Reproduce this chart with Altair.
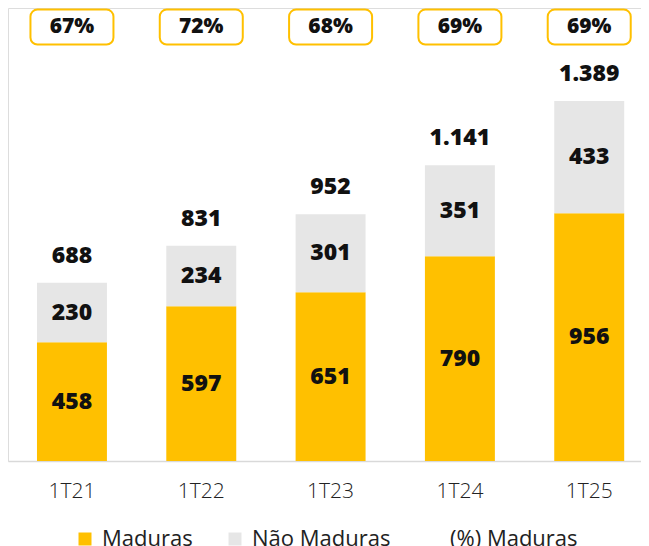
import altair as alt
import pandas as pd

categories = ["1T21", "1T22", "1T23", "1T24", "1T25"]
maduras = [458, 597, 651, 790, 956]
nao_maduras = [230, 234, 301, 351, 433]
totals = [688, 831, 952, 1141, 1389]
total_labels = ["688", "831", "952", "1.141", "1.389"]
pct_maduras = ["67%", "72%", "68%", "69%", "69%"]

series_names = ["Maduras", "Não Maduras", "(%) Maduras"]
series_colors = ["#FFC000", "#E6E6E6", "#FFFFFF"]

YELLOW = "#FFC000"
FONT = "Open Sans"

rows = []
for c, m, n in zip(categories, maduras, nao_maduras):
    rows.append({"cat": c, "serie": "Maduras", "y0": 0, "y1": m, "mid": m / 2, "label": str(m)})
    rows.append({"cat": c, "serie": "Não Maduras", "y0": m, "y1": m + n, "mid": m + n / 2, "label": str(n)})
seg = pd.DataFrame(rows)

tot = pd.DataFrame({"cat": categories, "total": totals, "label": total_labels})
pct = pd.DataFrame({"cat": categories, "pct": pct_maduras, "top": [1742] * 5, "bottom": [1607] * 5, "mid": [1674] * 5})

x = alt.X("cat:N", sort=categories,
          scale=alt.Scale(paddingInner=0.459, paddingOuter=0.177, align=0.633),
          axis=alt.Axis(title=None, labelAngle=0, ticks=False, labelFont=FONT, labelFontSize=21,
                        labelColor="#222222", labelPadding=19, domainColor="#D9D9D9", domainWidth=1.5,
                        labelFontWeight=300))
yscale = alt.Scale(domain=[0, 1748], nice=False)

bars = alt.Chart(seg).mark_bar().encode(
    x=x,
    y=alt.Y("y0:Q", scale=yscale, axis=None),
    y2="y1:Q",
    color=alt.Color("serie:N", scale=alt.Scale(domain=series_names, range=series_colors),
                    legend=alt.Legend(title=None, orient="none", direction="horizontal",
                                      legendX=66, legendY=520, symbolType="square", symbolSize=169,
                                      symbolStrokeWidth=0, labelFont=FONT, labelFontSize=22,
                                      labelColor="#222222", columnPadding=31, symbolOffset=0,
                                      labelOffset=6)),
)

seg_text = alt.Chart(seg).mark_text(font=FONT, fontSize=23, fontWeight=800, color="#111111").encode(
    x=alt.X("cat:N", sort=categories),
    y=alt.Y("mid:Q", scale=yscale),
    text="label:N",
)

tot_text = alt.Chart(tot).mark_text(font=FONT, fontSize=23, fontWeight=800, color="#111111",
                                    baseline="middle", dy=-27).encode(
    x=alt.X("cat:N", sort=categories),
    y=alt.Y("total:Q", scale=yscale),
    text="label:N",
)

boxes = alt.Chart(pct).mark_bar(width=83, fill="white", stroke=YELLOW, strokeWidth=2,
                                cornerRadius=7).encode(
    x=alt.X("cat:N", sort=categories),
    y=alt.Y("bottom:Q", scale=yscale),
    y2="top:Q",
)

pct_text = alt.Chart(pct).mark_text(font=FONT, fontSize=21, fontWeight=800, color="#111111").encode(
    x=alt.X("cat:N", sort=categories),
    y=alt.Y("mid:Q", scale=yscale),
    text="pct:N",
)

chart = alt.layer(bars, seg_text, tot_text, boxes, pct_text).properties(
    width=633, height=453, padding=0
).configure_view(stroke=None).configure(background="white")

chart.save("out.html", embed_options={"renderer": "svg", "actions": False})
